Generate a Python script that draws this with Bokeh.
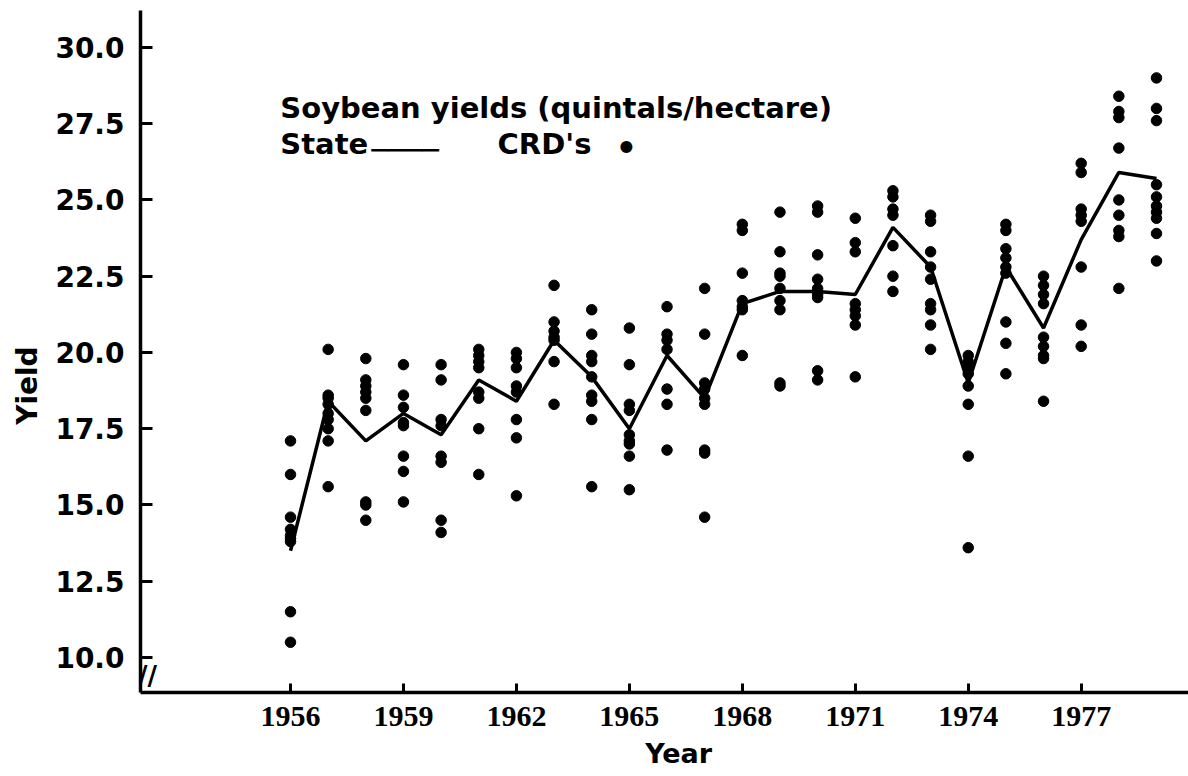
from bokeh.plotting import figure
from bokeh.models import Range1d, Label, ColumnDataSource, FixedTicker, NumeralTickFormatter
from bokeh.embed import file_html
from bokeh.resources import INLINE

# ---- data ----
years = list(range(1956, 1980))
state_yield = [13.5, 18.4, 17.1, 18.0, 17.3, 19.1, 18.4, 20.4, 19.2, 17.5, 19.9, 18.5,
               21.6, 22.0, 22.0, 21.9, 24.1, 22.8, 19.0, 22.8, 20.8, 23.7, 25.9, 25.7]

crd_by_year = [
    [17.1, 16.0, 14.6, 14.2, 14.0, 13.9, 13.8, 11.5, 10.5],          # 1956
    [20.1, 18.6, 18.5, 18.3, 18.0, 17.8, 17.5, 17.1, 15.6],          # 1957
    [19.8, 19.1, 18.9, 18.7, 18.5, 18.1, 15.1, 15.0, 14.5],          # 1958
    [19.6, 18.6, 18.2, 17.7, 17.6, 16.6, 16.1, 15.1],                # 1959
    [19.6, 19.1, 17.8, 17.6, 16.6, 16.4, 14.5, 14.1],                # 1960
    [20.1, 19.9, 19.7, 19.5, 18.7, 18.5, 17.5, 16.0],                # 1961
    [20.0, 19.8, 19.5, 18.9, 18.7, 17.8, 17.2, 15.3],                # 1962
    [22.2, 21.0, 20.7, 20.5, 20.4, 19.7, 18.3],                      # 1963
    [21.4, 20.6, 19.9, 19.7, 19.2, 18.6, 18.4, 17.8, 15.6],          # 1964
    [20.8, 19.6, 18.3, 18.1, 17.3, 17.1, 17.0, 16.6, 15.5],          # 1965
    [21.5, 20.6, 20.4, 20.1, 18.8, 18.3, 16.8],                      # 1966
    [22.1, 20.6, 19.0, 18.8, 18.5, 18.3, 16.8, 16.7, 14.6],          # 1967
    [24.2, 24.0, 22.6, 21.7, 21.5, 21.4, 19.9],                      # 1968
    [24.6, 23.3, 22.6, 22.5, 22.1, 21.7, 21.4, 19.0, 18.9],          # 1969
    [24.8, 24.6, 23.2, 22.4, 22.1, 21.9, 21.8, 19.4, 19.1],          # 1970
    [24.4, 23.6, 23.3, 21.6, 21.4, 21.2, 20.9, 19.2],                # 1971
    [25.3, 25.1, 24.7, 24.5, 23.5, 22.5, 22.0],                      # 1972
    [24.5, 24.3, 23.3, 22.8, 22.4, 21.6, 21.4, 20.9, 20.1],          # 1973
    [19.9, 19.7, 19.5, 19.3, 18.9, 18.3, 16.6, 13.6],                # 1974
    [24.2, 24.0, 23.4, 23.1, 22.8, 22.6, 21.0, 20.3, 19.3],          # 1975
    [22.5, 22.2, 21.9, 21.6, 20.5, 20.2, 19.9, 19.8, 18.4],          # 1976
    [26.2, 25.9, 24.7, 24.5, 24.3, 22.8, 20.9, 20.2],                # 1977
    [28.4, 27.9, 27.7, 26.7, 25.0, 24.5, 24.0, 23.8, 22.1],          # 1978
    [29.0, 28.0, 27.6, 25.5, 25.1, 24.8, 24.6, 24.4, 23.9, 23.0],    # 1979
]

x_ticks = [1956, 1959, 1962, 1965, 1968, 1971, 1974, 1977]
y_ticks = [10.0, 12.5, 15.0, 17.5, 20.0, 22.5, 25.0, 27.5, 30.0]

title_text = "Soybean yields (quintals/hectare)"
state_text = "State"
crd_text = "CRD's"

# ---- build sources ----
crd_x, crd_y = [], []
for yr, vals in zip(years, crd_by_year):
    crd_x.extend([yr] * len(vals))
    crd_y.extend(vals)
crd_src = ColumnDataSource(dict(x=crd_x, y=crd_y))
state_src = ColumnDataSource(dict(x=years, y=state_yield))

p = figure(width=1188, height=776, output_backend="svg", toolbar_location=None,
           x_range=Range1d(1952.016, 1979.85), y_range=Range1d(8.852, 31.21),
           min_border_left=140, min_border_right=0, min_border_top=10, min_border_bottom=84)
p.outline_line_color = None
p.grid.visible = False
p.background_fill_color = "white"
p.border_fill_color = "white"

p.scatter("x", "y", source=crd_src, size=10.5, color="black")
p.line("x", "y", source=state_src, line_width=3.5, color="black")

# axes
for ax in (p.xaxis[0], p.yaxis[0]):
    ax.axis_line_width = 3.5
    ax.axis_line_color = "black"
    ax.major_tick_line_width = 3
    ax.major_tick_line_color = "black"
    ax.major_tick_out = 0
    ax.minor_tick_line_color = None
    ax.major_label_text_color = "black"
    ax.major_label_text_font_style = "bold"
    ax.axis_label_text_font = "DejaVu Sans"
    ax.axis_label_text_font_style = "bold"
    ax.axis_label_text_color = "black"

p.xaxis.ticker = FixedTicker(ticks=x_ticks)
p.xaxis.major_tick_in = 9
p.xaxis.major_label_text_font = "Liberation Serif"
p.xaxis.major_label_text_font_size = "30px"
p.xaxis.major_label_standoff = 14
p.xaxis.axis_label = "\u00a0" * 3 + "Year"
p.xaxis.axis_label_text_font_size = "27px"
p.xaxis.axis_label_standoff = 9

p.yaxis.ticker = FixedTicker(ticks=y_ticks)
p.yaxis.formatter = NumeralTickFormatter(format="0.0")
p.yaxis.major_tick_in = 12
p.yaxis.major_label_text_font = "DejaVu Sans"
p.yaxis.major_label_text_font_size = "28px"
p.yaxis.major_label_standoff = 16
p.yaxis.axis_label = "Yield" + "\u00a0" * 7
p.yaxis.axis_label_text_font_size = "28px"
p.yaxis.axis_label_standoff = 8

bold = dict(text_font="DejaVu Sans", text_font_style="bold", text_color="black",
            text_baseline="middle")

# legend / caption texts (data units)
p.add_layout(Label(x=1955.73, y=28.03, text=title_text, text_align="left",
                   text_font_size="29px", **bold))
p.add_layout(Label(x=1955.73, y=26.82, text=state_text, text_align="left",
                   text_font_size="29px", **bold))
p.add_layout(Label(x=1958.15, y=26.62, text="\u2500" * 4, text_align="left",
                   text_baseline="middle", text_font="DejaVu Sans", text_font_size="28px",
                   text_color="black"))
p.add_layout(Label(x=1961.50, y=26.82, text=crd_text, text_align="left",
                   text_font_size="29px", **bold))
p.add_layout(Label(x=1964.92, y=26.69, text="\u2022", text_align="center",
                   text_font_size="34px", **bold))
p.add_layout(Label(x=1952.2, y=9.4, text="//", text_align="center",
                   text_font_size="26px", **bold))

open("out.html", "w").write(file_html(p, INLINE))
